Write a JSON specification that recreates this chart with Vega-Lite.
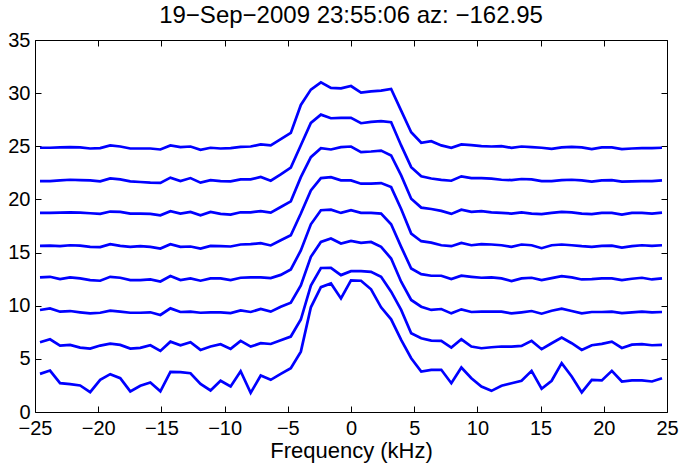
{
"$schema":"https://vega.github.io/schema/vega-lite/v6.json",
"width":632,"height":372,
"autosize":{"type":"none"},
"padding":{"left":35,"top":40,"right":15,"bottom":52},
"config":{"view":{"stroke":"#000000","strokeWidth":1},"font":"Liberation Sans"},
"title":{"text":"19−Sep−2009 23:55:06 az: −162.95","fontSize":24,"font":"Liberation Sans","fontWeight":"normal","color":"#000000","anchor":"middle","baseline":"alphabetic","offset":-17},
"data":{"values":[
{"f":-24.605,"s":1,"v":24.86},{"f":-23.811,"s":1,"v":24.86},{"f":-23.017,"s":1,"v":24.89},{"f":-22.224,"s":1,"v":24.92},{"f":-21.43,"s":1,"v":24.89},{"f":-20.636,"s":1,"v":24.79},{"f":-19.843,"s":1,"v":24.83},{"f":-19.049,"s":1,"v":25.08},{"f":-18.255,"s":1,"v":24.98},{"f":-17.461,"s":1,"v":24.79},{"f":-16.668,"s":1,"v":24.79},{"f":-15.874,"s":1,"v":24.79},{"f":-15.08,"s":1,"v":24.7},{"f":-14.287,"s":1,"v":25.08},{"f":-13.493,"s":1,"v":24.92},{"f":-12.699,"s":1,"v":24.98},{"f":-11.906,"s":1,"v":24.67},{"f":-11.112,"s":1,"v":24.86},{"f":-10.318,"s":1,"v":24.79},{"f":-9.524,"s":1,"v":24.83},{"f":-8.731,"s":1,"v":24.95},{"f":-7.937,"s":1,"v":24.98},{"f":-7.143,"s":1,"v":25.17},{"f":-6.35,"s":1,"v":25.08},{"f":-5.556,"s":1,"v":25.67},{"f":-4.762,"s":1,"v":26.26},{"f":-3.968,"s":1,"v":28.89},{"f":-3.175,"s":1,"v":30.33},{"f":-2.381,"s":1,"v":31.01},{"f":-1.587,"s":1,"v":30.49},{"f":-0.794,"s":1,"v":30.45},{"f":0,"s":1,"v":30.67},{"f":0.794,"s":1,"v":30.05},{"f":1.587,"s":1,"v":30.17},{"f":2.381,"s":1,"v":30.23},{"f":3.175,"s":1,"v":30.39},{"f":3.968,"s":1,"v":28.36},{"f":4.762,"s":1,"v":26.32},{"f":5.556,"s":1,"v":25.33},{"f":6.35,"s":1,"v":25.48},{"f":7.143,"s":1,"v":25.08},{"f":7.937,"s":1,"v":24.86},{"f":8.731,"s":1,"v":25.17},{"f":9.524,"s":1,"v":25.11},{"f":10.318,"s":1,"v":25.01},{"f":11.112,"s":1,"v":24.98},{"f":11.906,"s":1,"v":25.01},{"f":12.699,"s":1,"v":24.86},{"f":13.493,"s":1,"v":24.98},{"f":14.287,"s":1,"v":24.92},{"f":15.08,"s":1,"v":24.86},{"f":15.874,"s":1,"v":24.76},{"f":16.668,"s":1,"v":24.89},{"f":17.461,"s":1,"v":24.95},{"f":18.255,"s":1,"v":24.89},{"f":19.049,"s":1,"v":24.73},{"f":19.843,"s":1,"v":24.89},{"f":20.636,"s":1,"v":24.89},{"f":21.43,"s":1,"v":24.73},{"f":22.224,"s":1,"v":24.79},{"f":23.017,"s":1,"v":24.83},{"f":23.811,"s":1,"v":24.83},{"f":24.605,"s":1,"v":24.86},
{"f":-24.605,"s":2,"v":21.73},{"f":-23.811,"s":2,"v":21.73},{"f":-23.017,"s":2,"v":21.79},{"f":-22.224,"s":2,"v":21.85},{"f":-21.43,"s":2,"v":21.82},{"f":-20.636,"s":2,"v":21.79},{"f":-19.843,"s":2,"v":21.7},{"f":-19.049,"s":2,"v":21.98},{"f":-18.255,"s":2,"v":21.89},{"f":-17.461,"s":2,"v":21.7},{"f":-16.668,"s":2,"v":21.64},{"f":-15.874,"s":2,"v":21.58},{"f":-15.08,"s":2,"v":21.55},{"f":-14.287,"s":2,"v":22.05},{"f":-13.493,"s":2,"v":21.73},{"f":-12.699,"s":2,"v":22.01},{"f":-11.906,"s":2,"v":21.58},{"f":-11.112,"s":2,"v":21.82},{"f":-10.318,"s":2,"v":21.73},{"f":-9.524,"s":2,"v":21.7},{"f":-8.731,"s":2,"v":21.89},{"f":-7.937,"s":2,"v":21.89},{"f":-7.143,"s":2,"v":22.11},{"f":-6.35,"s":2,"v":21.76},{"f":-5.556,"s":2,"v":22.35},{"f":-4.762,"s":2,"v":23.0},{"f":-3.968,"s":2,"v":25.1},{"f":-3.175,"s":2,"v":27.2},{"f":-2.381,"s":2,"v":27.98},{"f":-1.587,"s":2,"v":27.64},{"f":-0.794,"s":2,"v":27.67},{"f":0,"s":2,"v":27.67},{"f":0.794,"s":2,"v":27.17},{"f":1.587,"s":2,"v":27.3},{"f":2.381,"s":2,"v":27.36},{"f":3.175,"s":2,"v":27.26},{"f":3.968,"s":2,"v":25.08},{"f":4.762,"s":2,"v":23.04},{"f":5.556,"s":2,"v":22.17},{"f":6.35,"s":2,"v":21.97},{"f":7.143,"s":2,"v":21.84},{"f":7.937,"s":2,"v":21.76},{"f":8.731,"s":2,"v":22.17},{"f":9.524,"s":2,"v":22.01},{"f":10.318,"s":2,"v":22.01},{"f":11.112,"s":2,"v":21.95},{"f":11.906,"s":2,"v":21.85},{"f":12.699,"s":2,"v":21.82},{"f":13.493,"s":2,"v":21.92},{"f":14.287,"s":2,"v":21.89},{"f":15.08,"s":2,"v":21.73},{"f":15.874,"s":2,"v":21.73},{"f":16.668,"s":2,"v":21.82},{"f":17.461,"s":2,"v":21.85},{"f":18.255,"s":2,"v":21.79},{"f":19.049,"s":2,"v":21.67},{"f":19.843,"s":2,"v":21.79},{"f":20.636,"s":2,"v":21.82},{"f":21.43,"s":2,"v":21.67},{"f":22.224,"s":2,"v":21.7},{"f":23.017,"s":2,"v":21.73},{"f":23.811,"s":2,"v":21.73},{"f":24.605,"s":2,"v":21.79},
{"f":-24.605,"s":3,"v":18.73},{"f":-23.811,"s":3,"v":18.73},{"f":-23.017,"s":3,"v":18.76},{"f":-22.224,"s":3,"v":18.79},{"f":-21.43,"s":3,"v":18.76},{"f":-20.636,"s":3,"v":18.7},{"f":-19.843,"s":3,"v":18.64},{"f":-19.049,"s":3,"v":18.86},{"f":-18.255,"s":3,"v":18.83},{"f":-17.461,"s":3,"v":18.67},{"f":-16.668,"s":3,"v":18.67},{"f":-15.874,"s":3,"v":18.64},{"f":-15.08,"s":3,"v":18.51},{"f":-14.287,"s":3,"v":18.89},{"f":-13.493,"s":3,"v":18.67},{"f":-12.699,"s":3,"v":18.83},{"f":-11.906,"s":3,"v":18.51},{"f":-11.112,"s":3,"v":18.83},{"f":-10.318,"s":3,"v":18.64},{"f":-9.524,"s":3,"v":18.57},{"f":-8.731,"s":3,"v":18.79},{"f":-7.937,"s":3,"v":18.79},{"f":-7.143,"s":3,"v":18.9},{"f":-6.35,"s":3,"v":18.76},{"f":-5.556,"s":3,"v":19.29},{"f":-4.762,"s":3,"v":19.82},{"f":-3.968,"s":3,"v":22.1},{"f":-3.175,"s":3,"v":23.98},{"f":-2.381,"s":3,"v":24.82},{"f":-1.587,"s":3,"v":24.7},{"f":-0.794,"s":3,"v":24.92},{"f":0,"s":3,"v":24.98},{"f":0.794,"s":3,"v":24.45},{"f":1.587,"s":3,"v":24.51},{"f":2.381,"s":3,"v":24.6},{"f":3.175,"s":3,"v":24.14},{"f":3.968,"s":3,"v":22.26},{"f":4.762,"s":3,"v":20.07},{"f":5.556,"s":3,"v":19.23},{"f":6.35,"s":3,"v":19.1},{"f":7.143,"s":3,"v":18.92},{"f":7.937,"s":3,"v":18.64},{"f":8.731,"s":3,"v":19.04},{"f":9.524,"s":3,"v":18.83},{"f":10.318,"s":3,"v":18.89},{"f":11.112,"s":3,"v":18.79},{"f":11.906,"s":3,"v":18.73},{"f":12.699,"s":3,"v":18.67},{"f":13.493,"s":3,"v":18.79},{"f":14.287,"s":3,"v":18.67},{"f":15.08,"s":3,"v":18.61},{"f":15.874,"s":3,"v":18.73},{"f":16.668,"s":3,"v":18.83},{"f":17.461,"s":3,"v":18.79},{"f":18.255,"s":3,"v":18.67},{"f":19.049,"s":3,"v":18.61},{"f":19.843,"s":3,"v":18.73},{"f":20.636,"s":3,"v":18.73},{"f":21.43,"s":3,"v":18.57},{"f":22.224,"s":3,"v":18.73},{"f":23.017,"s":3,"v":18.73},{"f":23.811,"s":3,"v":18.67},{"f":24.605,"s":3,"v":18.76},
{"f":-24.605,"s":4,"v":15.63},{"f":-23.811,"s":4,"v":15.66},{"f":-23.017,"s":4,"v":15.6},{"f":-22.224,"s":4,"v":15.69},{"f":-21.43,"s":4,"v":15.66},{"f":-20.636,"s":4,"v":15.54},{"f":-19.843,"s":4,"v":15.51},{"f":-19.049,"s":4,"v":15.79},{"f":-18.255,"s":4,"v":15.63},{"f":-17.461,"s":4,"v":15.54},{"f":-16.668,"s":4,"v":15.6},{"f":-15.874,"s":4,"v":15.54},{"f":-15.08,"s":4,"v":15.38},{"f":-14.287,"s":4,"v":15.79},{"f":-13.493,"s":4,"v":15.54},{"f":-12.699,"s":4,"v":15.57},{"f":-11.906,"s":4,"v":15.38},{"f":-11.112,"s":4,"v":15.63},{"f":-10.318,"s":4,"v":15.6},{"f":-9.524,"s":4,"v":15.57},{"f":-8.731,"s":4,"v":15.76},{"f":-7.937,"s":4,"v":15.79},{"f":-7.143,"s":4,"v":15.88},{"f":-6.35,"s":4,"v":15.67},{"f":-5.556,"s":4,"v":16.16},{"f":-4.762,"s":4,"v":16.63},{"f":-3.968,"s":4,"v":18.67},{"f":-3.175,"s":4,"v":20.85},{"f":-2.381,"s":4,"v":22.01},{"f":-1.587,"s":4,"v":22.1},{"f":-0.794,"s":4,"v":21.79},{"f":0,"s":4,"v":21.79},{"f":0.794,"s":4,"v":21.48},{"f":1.587,"s":4,"v":21.48},{"f":2.381,"s":4,"v":21.54},{"f":3.175,"s":4,"v":21.16},{"f":3.968,"s":4,"v":19.1},{"f":4.762,"s":4,"v":16.79},{"f":5.556,"s":4,"v":16.07},{"f":6.35,"s":4,"v":15.94},{"f":7.143,"s":4,"v":15.69},{"f":7.937,"s":4,"v":15.6},{"f":8.731,"s":4,"v":15.91},{"f":9.524,"s":4,"v":15.69},{"f":10.318,"s":4,"v":15.79},{"f":11.112,"s":4,"v":15.76},{"f":11.906,"s":4,"v":15.69},{"f":12.699,"s":4,"v":15.54},{"f":13.493,"s":4,"v":15.76},{"f":14.287,"s":4,"v":15.69},{"f":15.08,"s":4,"v":15.41},{"f":15.874,"s":4,"v":15.69},{"f":16.668,"s":4,"v":15.76},{"f":17.461,"s":4,"v":15.69},{"f":18.255,"s":4,"v":15.6},{"f":19.049,"s":4,"v":15.54},{"f":19.843,"s":4,"v":15.63},{"f":20.636,"s":4,"v":15.66},{"f":21.43,"s":4,"v":15.47},{"f":22.224,"s":4,"v":15.6},{"f":23.017,"s":4,"v":15.69},{"f":23.811,"s":4,"v":15.63},{"f":24.605,"s":4,"v":15.69},
{"f":-24.605,"s":5,"v":12.66},{"f":-23.811,"s":5,"v":12.72},{"f":-23.017,"s":5,"v":12.5},{"f":-22.224,"s":5,"v":12.66},{"f":-21.43,"s":5,"v":12.57},{"f":-20.636,"s":5,"v":12.41},{"f":-19.843,"s":5,"v":12.35},{"f":-19.049,"s":5,"v":12.72},{"f":-18.255,"s":5,"v":12.63},{"f":-17.461,"s":5,"v":12.41},{"f":-16.668,"s":5,"v":12.41},{"f":-15.874,"s":5,"v":12.47},{"f":-15.08,"s":5,"v":12.28},{"f":-14.287,"s":5,"v":12.79},{"f":-13.493,"s":5,"v":12.41},{"f":-12.699,"s":5,"v":12.57},{"f":-11.906,"s":5,"v":12.35},{"f":-11.112,"s":5,"v":12.57},{"f":-10.318,"s":5,"v":12.57},{"f":-9.524,"s":5,"v":12.41},{"f":-8.731,"s":5,"v":12.63},{"f":-7.937,"s":5,"v":12.66},{"f":-7.143,"s":5,"v":12.66},{"f":-6.35,"s":5,"v":12.6},{"f":-5.556,"s":5,"v":12.9},{"f":-4.762,"s":5,"v":13.41},{"f":-3.968,"s":5,"v":15.2},{"f":-3.175,"s":5,"v":17.66},{"f":-2.381,"s":5,"v":18.98},{"f":-1.587,"s":5,"v":19.04},{"f":-0.794,"s":5,"v":18.73},{"f":0,"s":5,"v":18.98},{"f":0.794,"s":5,"v":18.73},{"f":1.587,"s":5,"v":18.73},{"f":2.381,"s":5,"v":18.67},{"f":3.175,"s":5,"v":17.66},{"f":3.968,"s":5,"v":15.54},{"f":4.762,"s":5,"v":13.5},{"f":5.556,"s":5,"v":12.97},{"f":6.35,"s":5,"v":12.82},{"f":7.143,"s":5,"v":12.82},{"f":7.937,"s":5,"v":12.5},{"f":8.731,"s":5,"v":12.82},{"f":9.524,"s":5,"v":12.72},{"f":10.318,"s":5,"v":12.63},{"f":11.112,"s":5,"v":12.66},{"f":11.906,"s":5,"v":12.57},{"f":12.699,"s":5,"v":12.32},{"f":13.493,"s":5,"v":12.57},{"f":14.287,"s":5,"v":12.63},{"f":15.08,"s":5,"v":12.41},{"f":15.874,"s":5,"v":12.6},{"f":16.668,"s":5,"v":12.79},{"f":17.461,"s":5,"v":12.66},{"f":18.255,"s":5,"v":12.47},{"f":19.049,"s":5,"v":12.5},{"f":19.843,"s":5,"v":12.57},{"f":20.636,"s":5,"v":12.57},{"f":21.43,"s":5,"v":12.41},{"f":22.224,"s":5,"v":12.54},{"f":23.017,"s":5,"v":12.63},{"f":23.811,"s":5,"v":12.47},{"f":24.605,"s":5,"v":12.57},
{"f":-24.605,"s":6,"v":9.6},{"f":-23.811,"s":6,"v":9.75},{"f":-23.017,"s":6,"v":9.44},{"f":-22.224,"s":6,"v":9.5},{"f":-21.43,"s":6,"v":9.38},{"f":-20.636,"s":6,"v":9.28},{"f":-19.843,"s":6,"v":9.34},{"f":-19.049,"s":6,"v":9.53},{"f":-18.255,"s":6,"v":9.44},{"f":-17.461,"s":6,"v":9.34},{"f":-16.668,"s":6,"v":9.34},{"f":-15.874,"s":6,"v":9.38},{"f":-15.08,"s":6,"v":9.13},{"f":-14.287,"s":6,"v":9.75},{"f":-13.493,"s":6,"v":9.41},{"f":-12.699,"s":6,"v":9.44},{"f":-11.906,"s":6,"v":9.34},{"f":-11.112,"s":6,"v":9.38},{"f":-10.318,"s":6,"v":9.38},{"f":-9.524,"s":6,"v":9.31},{"f":-8.731,"s":6,"v":9.55},{"f":-7.937,"s":6,"v":9.41},{"f":-7.143,"s":6,"v":9.69},{"f":-6.35,"s":6,"v":9.44},{"f":-5.556,"s":6,"v":9.91},{"f":-4.762,"s":6,"v":10.28},{"f":-3.968,"s":6,"v":11.9},{"f":-3.175,"s":6,"v":14.6},{"f":-2.381,"s":6,"v":16.0},{"f":-1.587,"s":6,"v":16.32},{"f":-0.794,"s":6,"v":15.85},{"f":0,"s":6,"v":16.1},{"f":0.794,"s":6,"v":15.91},{"f":1.587,"s":6,"v":16.0},{"f":2.381,"s":6,"v":15.54},{"f":3.175,"s":6,"v":14.44},{"f":3.968,"s":6,"v":12.26},{"f":4.762,"s":6,"v":10.54},{"f":5.556,"s":6,"v":9.91},{"f":6.35,"s":6,"v":9.6},{"f":7.143,"s":6,"v":9.69},{"f":7.937,"s":6,"v":9.28},{"f":8.731,"s":6,"v":9.66},{"f":9.524,"s":6,"v":9.41},{"f":10.318,"s":6,"v":9.44},{"f":11.112,"s":6,"v":9.44},{"f":11.906,"s":6,"v":9.44},{"f":12.699,"s":6,"v":9.28},{"f":13.493,"s":6,"v":9.38},{"f":14.287,"s":6,"v":9.5},{"f":15.08,"s":6,"v":9.25},{"f":15.874,"s":6,"v":9.53},{"f":16.668,"s":6,"v":9.72},{"f":17.461,"s":6,"v":9.5},{"f":18.255,"s":6,"v":9.28},{"f":19.049,"s":6,"v":9.41},{"f":19.843,"s":6,"v":9.41},{"f":20.636,"s":6,"v":9.44},{"f":21.43,"s":6,"v":9.31},{"f":22.224,"s":6,"v":9.38},{"f":23.017,"s":6,"v":9.44},{"f":23.811,"s":6,"v":9.38},{"f":24.605,"s":6,"v":9.41},
{"f":-24.605,"s":7,"v":6.56},{"f":-23.811,"s":7,"v":6.84},{"f":-23.017,"s":7,"v":6.25},{"f":-22.224,"s":7,"v":6.31},{"f":-21.43,"s":7,"v":6.06},{"f":-20.636,"s":7,"v":5.97},{"f":-19.843,"s":7,"v":6.25},{"f":-19.049,"s":7,"v":6.44},{"f":-18.255,"s":7,"v":6.31},{"f":-17.461,"s":7,"v":5.97},{"f":-16.668,"s":7,"v":6.03},{"f":-15.874,"s":7,"v":6.28},{"f":-15.08,"s":7,"v":5.75},{"f":-14.287,"s":7,"v":6.62},{"f":-13.493,"s":7,"v":6.28},{"f":-12.699,"s":7,"v":6.56},{"f":-11.906,"s":7,"v":5.84},{"f":-11.112,"s":7,"v":6.16},{"f":-10.318,"s":7,"v":6.38},{"f":-9.524,"s":7,"v":5.94},{"f":-8.731,"s":7,"v":6.69},{"f":-7.937,"s":7,"v":6.15},{"f":-7.143,"s":7,"v":6.47},{"f":-6.35,"s":7,"v":6.4},{"f":-5.556,"s":7,"v":6.75},{"f":-4.762,"s":7,"v":7.1},{"f":-3.968,"s":7,"v":8.7},{"f":-3.175,"s":7,"v":11.9},{"f":-2.381,"s":7,"v":13.55},{"f":-1.587,"s":7,"v":13.56},{"f":-0.794,"s":7,"v":12.88},{"f":0,"s":7,"v":13.25},{"f":0.794,"s":7,"v":13.25},{"f":1.587,"s":7,"v":13.19},{"f":2.381,"s":7,"v":12.72},{"f":3.175,"s":7,"v":11.32},{"f":3.968,"s":7,"v":9.6},{"f":4.762,"s":7,"v":7.41},{"f":5.556,"s":7,"v":6.94},{"f":6.35,"s":7,"v":6.72},{"f":7.143,"s":7,"v":6.69},{"f":7.937,"s":7,"v":6.06},{"f":8.731,"s":7,"v":6.84},{"f":9.524,"s":7,"v":6.16},{"f":10.318,"s":7,"v":6.0},{"f":11.112,"s":7,"v":6.09},{"f":11.906,"s":7,"v":6.16},{"f":12.699,"s":7,"v":6.16},{"f":13.493,"s":7,"v":6.22},{"f":14.287,"s":7,"v":6.69},{"f":15.08,"s":7,"v":5.91},{"f":15.874,"s":7,"v":6.47},{"f":16.668,"s":7,"v":7.0},{"f":17.461,"s":7,"v":6.47},{"f":18.255,"s":7,"v":5.84},{"f":19.049,"s":7,"v":6.28},{"f":19.843,"s":7,"v":6.41},{"f":20.636,"s":7,"v":6.62},{"f":21.43,"s":7,"v":6.03},{"f":22.224,"s":7,"v":6.34},{"f":23.017,"s":7,"v":6.38},{"f":23.811,"s":7,"v":6.28},{"f":24.605,"s":7,"v":6.31},
{"f":-24.605,"s":8,"v":3.59},{"f":-23.811,"s":8,"v":3.9},{"f":-23.017,"s":8,"v":2.71},{"f":-22.224,"s":8,"v":2.62},{"f":-21.43,"s":8,"v":2.5},{"f":-20.636,"s":8,"v":1.87},{"f":-19.843,"s":8,"v":3.03},{"f":-19.049,"s":8,"v":3.56},{"f":-18.255,"s":8,"v":3.18},{"f":-17.461,"s":8,"v":1.94},{"f":-16.668,"s":8,"v":2.47},{"f":-15.874,"s":8,"v":2.78},{"f":-15.08,"s":8,"v":1.94},{"f":-14.287,"s":8,"v":3.78},{"f":-13.493,"s":8,"v":3.75},{"f":-12.699,"s":8,"v":3.65},{"f":-11.906,"s":8,"v":2.65},{"f":-11.112,"s":8,"v":2.03},{"f":-10.318,"s":8,"v":2.94},{"f":-9.524,"s":8,"v":2.4},{"f":-8.731,"s":8,"v":3.84},{"f":-7.937,"s":8,"v":1.8},{"f":-7.143,"s":8,"v":3.43},{"f":-6.35,"s":8,"v":3.03},{"f":-5.556,"s":8,"v":3.58},{"f":-4.762,"s":8,"v":4.12},{"f":-3.968,"s":8,"v":5.68},{"f":-3.175,"s":8,"v":9.85},{"f":-2.381,"s":8,"v":11.75},{"f":-1.587,"s":8,"v":12.1},{"f":-0.794,"s":8,"v":10.68},{"f":0,"s":8,"v":12.38},{"f":0.794,"s":8,"v":12.35},{"f":1.587,"s":8,"v":11.54},{"f":2.381,"s":8,"v":9.85},{"f":3.175,"s":8,"v":8.72},{"f":3.968,"s":8,"v":6.78},{"f":4.762,"s":8,"v":5.06},{"f":5.556,"s":8,"v":3.81},{"f":6.35,"s":8,"v":3.96},{"f":7.143,"s":8,"v":3.97},{"f":7.937,"s":8,"v":2.71},{"f":8.731,"s":8,"v":4.19},{"f":9.524,"s":8,"v":3.18},{"f":10.318,"s":8,"v":2.4},{"f":11.112,"s":8,"v":1.99},{"f":11.906,"s":8,"v":2.47},{"f":12.699,"s":8,"v":2.71},{"f":13.493,"s":8,"v":2.94},{"f":14.287,"s":8,"v":3.87},{"f":15.08,"s":8,"v":2.19},{"f":15.874,"s":8,"v":2.94},{"f":16.668,"s":8,"v":4.6},{"f":17.461,"s":8,"v":3.34},{"f":18.255,"s":8,"v":1.84},{"f":19.049,"s":8,"v":3.03},{"f":19.843,"s":8,"v":2.97},{"f":20.636,"s":8,"v":3.87},{"f":21.43,"s":8,"v":2.87},{"f":22.224,"s":8,"v":2.97},{"f":23.017,"s":8,"v":2.97},{"f":23.811,"s":8,"v":2.87},{"f":24.605,"s":8,"v":3.18}
]},
"layer":[
{"mark":{"type":"line","color":"#0000ff","strokeWidth":2.7,"clip":true},
 "encoding":{
  "x":{"field":"f","type":"quantitative","scale":{"domain":[-25,25],"nice":false,"zero":false},
   "axis":{"orient":"bottom","values":[-25,-20,-15,-10,-5,0,5,10,15,20,25],"title":"Frequency (kHz)","grid":false,"domain":false,"tickSize":-6,"tickColor":"#000000","tickWidth":1,"labelPadding":28,"labelFont":"Liberation Sans","labelFontSize":20,"labelColor":"#000000","labelFlush":false,"labelOverlap":false,"labelBaseline":"alphabetic","titleFont":"Liberation Sans","titleFontSize":22,"titleFontWeight":"normal","titleColor":"#000000","titleBaseline":"alphabetic","titleY":45}},
  "y":{"field":"v","type":"quantitative","scale":{"domain":[0,35],"nice":false,"zero":false},
   "axis":{"orient":"left","values":[0,5,10,15,20,25,30,35],"title":null,"grid":false,"domain":false,"tickSize":-6,"tickColor":"#000000","tickWidth":1,"labelPadding":11,"labelFont":"Liberation Sans","labelFontSize":20,"labelColor":"#000000","labelFlush":false,"labelOverlap":false}},
  "detail":{"field":"s","type":"nominal"}}},
{"mark":{"type":"line","strokeOpacity":0},
 "encoding":{
  "x":{"field":"f","type":"quantitative","axis":{"orient":"top","values":[-25,-20,-15,-10,-5,0,5,10,15,20,25],"title":null,"labels":false,"grid":false,"domain":false,"tickSize":-6,"tickColor":"#000000","tickWidth":1}},
  "y":{"field":"v","type":"quantitative","axis":{"orient":"right","values":[0,5,10,15,20,25,30,35],"title":null,"labels":false,"grid":false,"domain":false,"tickSize":-6,"tickColor":"#000000","tickWidth":1}},
  "detail":{"field":"s","type":"nominal"}}}
],
"resolve":{"axis":{"x":"independent","y":"independent"}}
}
